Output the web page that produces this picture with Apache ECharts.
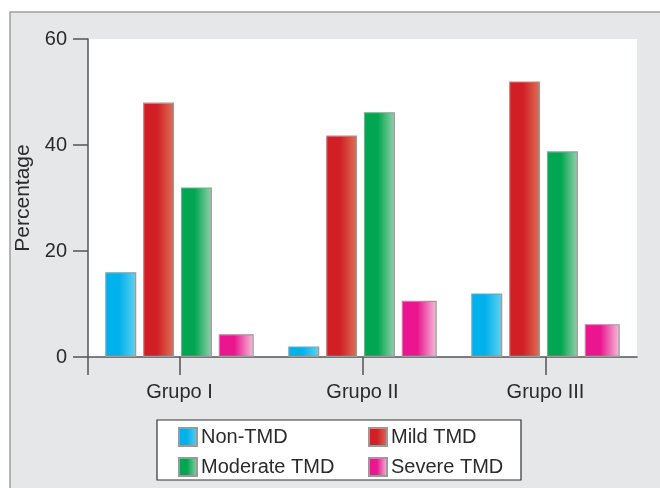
<!DOCTYPE html>
<html>
<head>
<meta charset="utf-8">
<script src="https://cdn.jsdelivr.net/npm/echarts@6/dist/echarts.min.js"></script>
<style>
  html, body { margin: 0; padding: 0; background: #fff; }
  #main { width: 660px; height: 488px; }
</style>
</head>
<body>
<div id="main"></div>
<script>
// data
var groups = ['Grupo I', 'Grupo II', 'Grupo III'];
var nonTmd = [16, 2, 12];
var mildTmd = [48, 41.8, 52];
var moderateTmd = [32, 46.2, 38.8];
var severeTmd = [4.3, 10.6, 6.2];
var yTicks = [0, 20, 40, 60];

var font = 'Liberation Sans, Arial, sans-serif';
var textCol = '#2b2b2b';

function grad(a, b) {
  return new echarts.graphic.LinearGradient(0, 0, 1, 0, [
    { offset: 0, color: a },
    { offset: 0.45, color: a },
    { offset: 1, color: b }
  ]);
}

function bar(name, data, c1, c2, w) {
  return {
    name: name,
    type: 'bar',
    data: data,
    barWidth: w,
    barGap: '22%',
    itemStyle: { color: grad(c1, c2), borderColor: '#9a9a9a', borderWidth: 1.2 }
  };
}

var myChart = echarts.init(document.getElementById('main'));

var legendCommon = {
  orient: 'vertical', top: 422, z: 5,
  icon: 'rect',
  itemWidth: 18, itemHeight: 18, itemGap: 10,
  textStyle: { fontSize: 20, color: textCol, fontFamily: font, padding: [0, 0, 0, -1] }
};

var option = {
  backgroundColor: '#ffffff',
  animation: false,
  textStyle: { fontFamily: font },
  graphic: [
    {
      type: 'rect', z: -10, silent: true,
      shape: { x: 10, y: 12, width: 700, height: 500 },
      style: { fill: '#e6e7e8', stroke: '#a0a0a0', lineWidth: 1.5 }
    },
    {
      type: 'rect', z: 1, silent: true,
      shape: { x: 157, y: 420, width: 364, height: 60 },
      style: { fill: '#ffffff', stroke: '#333333', lineWidth: 1.2 }
    }
  ],
  grid: {
    left: 88, right: 23, top: 39, bottom: 131,
    show: true, backgroundColor: '#ffffff', borderWidth: 0
  },
  legend: [
    Object.assign({ data: ['Non-TMD', 'Moderate TMD'], left: 173 }, legendCommon),
    Object.assign({ data: ['Mild TMD', 'Severe TMD'], left: 363 }, legendCommon)
  ],
  xAxis: {
    type: 'category',
    data: groups,
    axisLine: { lineStyle: { color: '#555', width: 1.5 } },
    axisTick: { show: true, alignWithLabel: true, length: 18, lineStyle: { color: '#555', width: 1.5 } },
    axisLabel: { margin: 25, fontSize: 20, color: textCol, fontFamily: font }
  },
  yAxis: {
    type: 'value',
    min: 0, max: 60, interval: 20,
    name: 'Percentage',
    nameLocation: 'middle',
    nameGap: 49,
    nameTextStyle: { fontSize: 21, color: textCol, fontFamily: font },
    splitLine: { show: false },
    axisLine: { show: true, lineStyle: { color: '#555', width: 1.5 } },
    axisTick: { show: true, length: 15, lineStyle: { color: '#555', width: 1.5 } },
    axisLabel: {
      margin: 21, fontSize: 20, color: textCol, fontFamily: font,
      customValues: yTicks
    }
  },
  series: [
    bar('Non-TMD', nonTmd, '#00b2ec', '#5fd2f2', 31),
    bar('Mild TMD', mildTmd, '#d21f26', '#e07055', 31),
    bar('Moderate TMD', moderateTmd, '#00a651', '#94d3ac', 31),
    bar('Severe TMD', severeTmd, '#ec1590', '#f8bfdc', 35)
  ]
};

myChart.setOption(option);

// extend the y axis line below the category axis, like the original
var p0 = myChart.convertToPixel({ gridIndex: 0 }, [0, 0]);
var xLeft = 88;
var g = option.graphic.slice();
g.push({
  type: 'line', silent: true, z: 3,
  shape: { x1: xLeft, y1: p0[1], x2: xLeft, y2: p0[1] + 18 },
  style: { stroke: '#555', lineWidth: 1.5 }
});
myChart.setOption({ graphic: g });
</script>
</body>
</html>
